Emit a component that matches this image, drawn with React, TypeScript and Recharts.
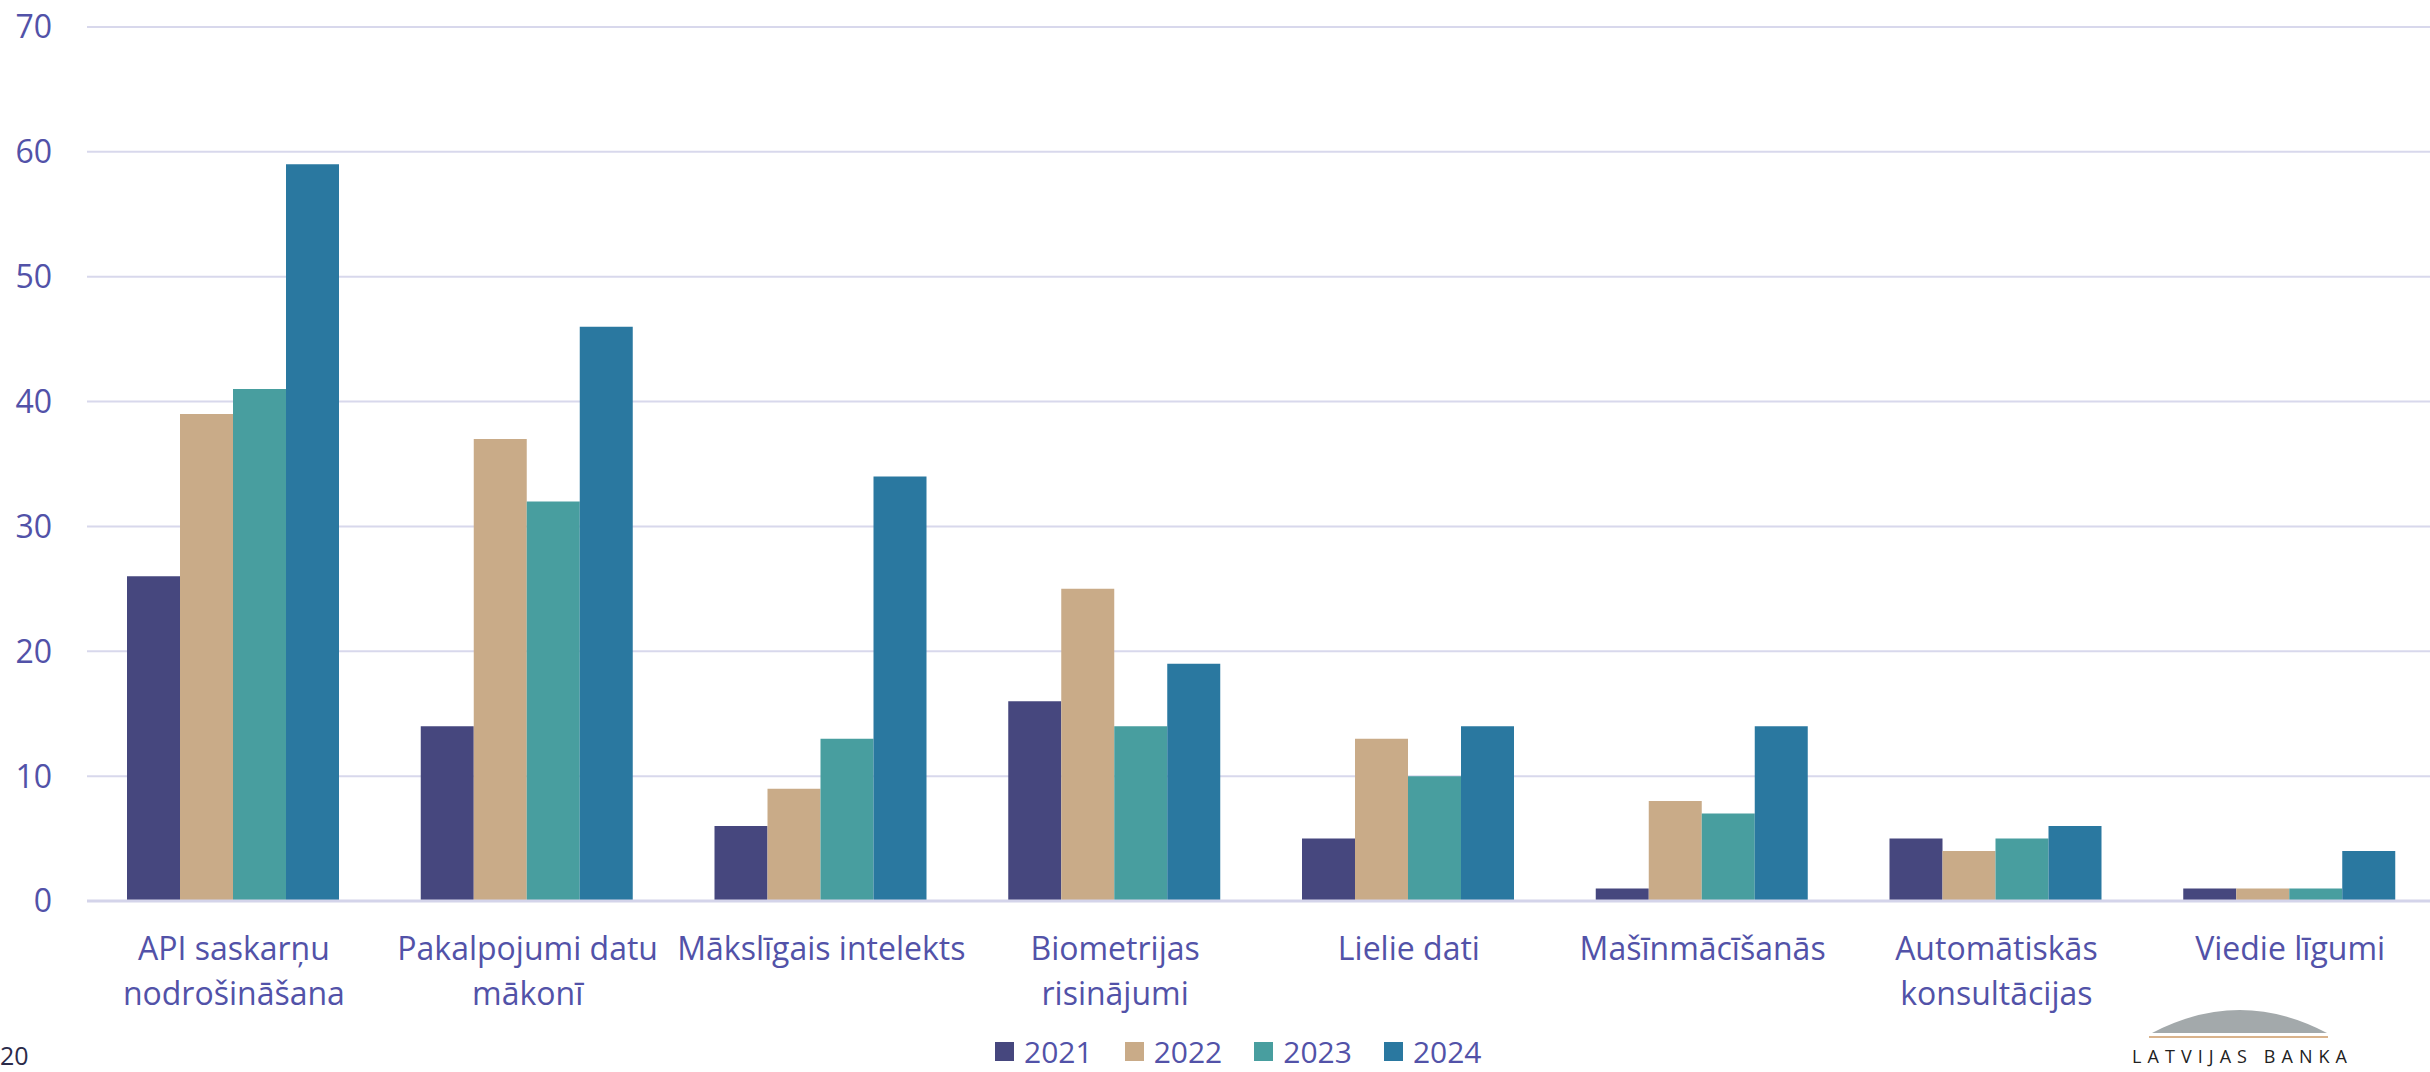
import React from 'react'
import { Bar, BarChart, CartesianGrid, Legend, XAxis, YAxis } from 'recharts'

const categories = [
  'API saskarņu\nnodrošināšana',
  'Pakalpojumi datu\nmākonī',
  'Mākslīgais intelekts',
  'Biometrijas\nrisinājumi',
  'Lielie dati',
  'Mašīnmācīšanās',
  'Automātiskās\nkonsultācijas',
  'Viedie līgumi',
]

const y2021 = [26, 14, 6, 16, 5, 1, 5, 1]
const y2022 = [39, 37, 9, 25, 13, 8, 4, 1]
const y2023 = [41, 32, 13, 14, 10, 7, 5, 1]
const y2024 = [59, 46, 34, 19, 14, 14, 6, 4]

const yTicks = [0, 10, 20, 30, 40, 50, 60, 70]

const series = [
  { key: '2021', color: '#46477e' },
  { key: '2022', color: '#c9ab88' },
  { key: '2023', color: '#489e9f' },
  { key: '2024', color: '#2a78a0' },
]

const data = categories.map((name, i) => ({
  name,
  '2021': y2021[i],
  '2022': y2022[i],
  '2023': y2023[i],
  '2024': y2024[i],
}))

const textColor = '#5252a8'
const font = '"Open Sans", sans-serif'

function CategoryTick(props: any) {
  const { x, y, payload } = props
  const lines = String(payload.value).split('\n')
  return (
    <text x={x} y={y} textAnchor="middle" fill={textColor} fontSize={32} fontFamily={font}>
      {lines.map((line, i) => (
        <tspan key={i} x={x} dy={i === 0 ? 57 : 45}>
          {line}
        </tspan>
      ))}
    </text>
  )
}

function YearLegend() {
  return (
    <div style={{ display: 'flex', alignItems: 'center', height: 41, fontFamily: font }}>
      {series.map((s) => (
        <div key={s.key} style={{ display: 'flex', alignItems: 'center', marginRight: 32 }}>
          <span style={{ width: 19, height: 19, background: s.color, display: 'inline-block', marginRight: 10 }} />
          <span style={{ color: textColor, fontSize: 30, lineHeight: '41px' }}>{s.key}</span>
        </div>
      ))}
    </div>
  )
}

export default function App() {
  return (
    <div
      style={{
        position: 'absolute',
        left: 0,
        top: 0,
        width: 2430,
        height: 1072,
        overflow: 'hidden',
        background: '#fff',
        fontFamily: font,
      }}
    >
      <BarChart
        width={2440}
        height={1072}
        data={data}
        margin={{ top: 27, right: 3, left: 0, bottom: 0 }}
        barCategoryGap={40}
        barGap={0}
      >
        <CartesianGrid vertical={false} stroke="#d8d8ec" strokeWidth={2} />
        <XAxis
          dataKey="name"
          interval={0}
          height={130}
          tickLine={false}
          tickSize={0}
          axisLine={{ stroke: '#d4d4ea', strokeWidth: 3 }}
          tick={<CategoryTick />}
        />
        <YAxis
          width={87}
          domain={[0, 70]}
          ticks={yTicks}
          axisLine={false}
          tickLine={false}
          tickSize={0}
          tickMargin={35}
          tick={{ fill: textColor, fontSize: 32, fontFamily: font }}
        />
        <Legend
          verticalAlign="bottom"
          content={<YearLegend />}
          wrapperStyle={{ left: 995, bottom: 0, width: 560, height: 41 }}
        />
        {series.map((s) => (
          <Bar key={s.key} dataKey={s.key} fill={s.color} isAnimationActive={false} />
        ))}
      </BarChart>

      <div
        style={{
          position: 'absolute',
          left: 0,
          top: 1038,
          fontSize: 25,
          lineHeight: '34px',
          color: '#2b2b4a',
          fontFamily: font,
        }}
      >
        20
      </div>

      <svg
        width={2430}
        height={1072}
        style={{ position: 'absolute', left: 0, top: 0, pointerEvents: 'none' }}
      >
        <path d="M2152,1033 Q2240,987 2327,1033 Z" fill="#a3a9ab" />
        <line x1={2149} y1={1037} x2={2328} y2={1037} stroke="#d9b38c" strokeWidth={2} />
        <text
          x={2132}
          y={1063}
          fontSize={18}
          fill="#222"
          fontFamily={font}
          textLength={215}
          lengthAdjust="spacing"
        >
          LATVIJAS BANKA
        </text>
      </svg>
    </div>
  )
}
